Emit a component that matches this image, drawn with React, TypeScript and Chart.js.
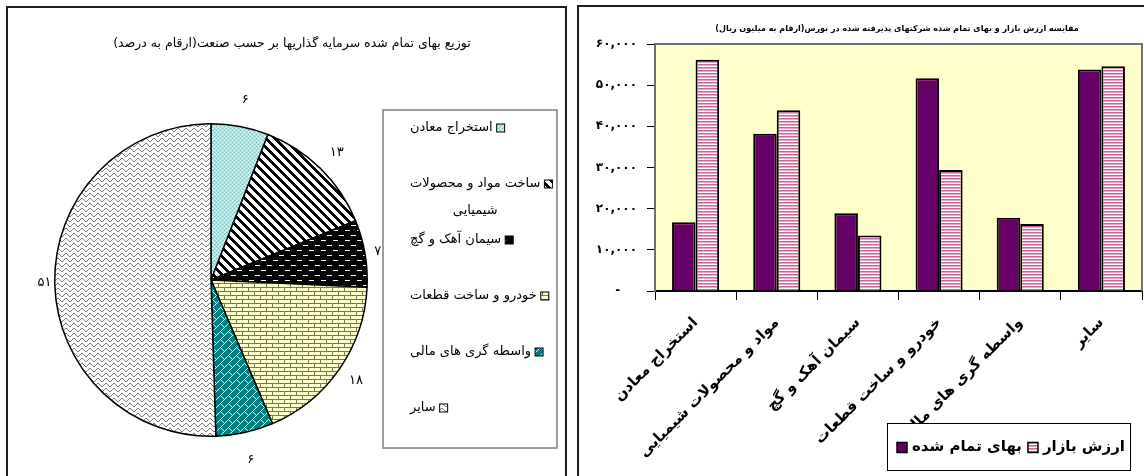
import React, { useEffect, useRef } from "react";
import { Chart, registerables } from "chart.js";
Chart.register(...registerables);

// ---------- data ----------
const pieTitle = "توزیع بهای تمام شده سرمایه گذاریها بر حسب صنعت(ارقام به درصد)";
const pieCategories = [
  "استخراج معادن",
  "ساخت مواد و محصولات شیمیایی",
  "سیمان آهک و گچ",
  "خودرو و ساخت قطعات",
  "واسطه گری های مالی",
  "سایر",
];
const pieLegendLines = [
  ["استخراج معادن"],
  ["ساخت مواد و محصولات", "شیمیایی"],
  ["سیمان آهک و گچ"],
  ["خودرو و ساخت قطعات"],
  ["واسطه گری های مالی"],
  ["سایر"],
];
const pieValues = [6, 13, 7, 18, 6, 51];
const pieValueLabels = ["۶", "۱۳", "۷", "۱۸", "۶", "۵۱"];

const barTitle =
  "مقایسه ارزش بازار و بهای تمام شده شرکتهای پذیرفته شده در بورس(ارقام به میلیون ریال)";
const barCategories = [
  "استخراج معادن",
  "مواد و محصولات شیمیایی",
  "سیمان آهک و گچ",
  "خودرو و ساخت قطعات",
  "واسطه گری های مالی",
  "سایر",
];
const costSeriesName = "بهای تمام شده";
const marketSeriesName = "ارزش بازار";
const costValues = [16700, 38200, 18900, 51700, 17800, 53800];
const marketValues = [56200, 43900, 13500, 29400, 16300, 54600];
const yTickLabels = ["-\u2007\u2007", "۱۰,۰۰۰", "۲۰,۰۰۰", "۳۰,۰۰۰", "۴۰,۰۰۰", "۵۰,۰۰۰", "۶۰,۰۰۰"];

// ---------- helpers ----------
type Layer = { color: string; pts: [number, number][] };
function makePattern(w: number, h: number, bg: string, layers: Layer[]) {
  const c = document.createElement("canvas");
  c.width = w;
  c.height = h;
  const g = c.getContext("2d")!;
  g.fillStyle = bg;
  g.fillRect(0, 0, w, h);
  layers.forEach((l) => {
    g.fillStyle = l.color;
    l.pts.forEach(([x, y]) => g.fillRect(x, y, 1, 1));
  });
  return g.createPattern(c, "repeat")!;
}
function range(n: number) {
  return Array.from({ length: n }, (_, i) => i);
}

function buildPiePatterns() {
  const cyan = makePattern(4, 4, "#A3E8E8", [
    { color: "#FFFFFF", pts: [[0, 0], [2, 2]] },
    { color: "#66CCCC", pts: [[2, 0], [0, 2]] },
  ]);
  const diagPts: [number, number][] = [];
  range(9).forEach((y) => range(4).forEach((t) => diagPts.push([(y + t) % 9, y])));
  const diag = makePattern(9, 9, "#FFFFFF", [{ color: "#000000", pts: diagPts }]);
  const dashPts: [number, number][] = [];
  range(5).forEach((k) => {
    dashPts.push([1 + k, 2]);
    dashPts.push([7 + k, 7]);
  });
  const dash = makePattern(12, 10, "#000000", [{ color: "#FFFFFF", pts: dashPts }]);
  const brickPts: [number, number][] = [];
  range(12).forEach((x) => {
    brickPts.push([x, 3]);
    brickPts.push([x, 7]);
  });
  range(3).forEach((y) => {
    brickPts.push([0, y]);
    brickPts.push([6, y + 4]);
  });
  const brick = makePattern(12, 8, "#FFFFCC", [{ color: "#77775A", pts: brickPts }]);
  const tealPts: [number, number][] = [];
  range(8).forEach((y) => tealPts.push([7 - y, y]));
  tealPts.push([4, 3], [5, 4], [6, 5], [7, 6]);
  const teal = makePattern(8, 8, "#008080", [{ color: "#CCFFCC", pts: tealPts }]);
  const waveY = [1, 0, 0, 1, 2, 3, 3, 2];
  const wave = makePattern(8, 5, "#FFFFFF", [
    { color: "#7A7A7A", pts: waveY.map((y, x) => [x, y] as [number, number]) },
  ]);
  return [cyan, diag, dash, brick, teal, wave];
}

function buildPinkPattern() {
  return makePattern(4, 3, "#FFFFFF", [
    { color: "#C8689A", pts: range(4).map((x) => [x, 0] as [number, number]) },
    { color: "#E6A8C8", pts: range(4).map((x) => [x, 1] as [number, number]) },
  ]);
}

const FONT = "Tahoma, 'DejaVu Sans', sans-serif";
const PURPLE = "#660066";

export default function App() {
  const pieRef = useRef<HTMLCanvasElement>(null);
  const barRef = useRef<HTMLCanvasElement>(null);

  useEffect(() => {
    const piePatterns = buildPiePatterns();
    const pink = buildPinkPattern();

    // ---------- pie ----------
    const PX = 8,
      PY = 8; // pie canvas page offset
    const pieDecor = {
      id: "pieDecor",
      afterDraw(chart: any) {
        const ctx = chart.ctx as CanvasRenderingContext2D;
        ctx.save();
        ctx.fillStyle = "#000";
        ctx.textBaseline = "middle";
        ctx.textAlign = "center";
        (ctx as any).direction = "rtl";
        ctx.font = `12.5px ${FONT}`;
        ctx.fillText(pieTitle, 292 - PX, 44 - PY);

        // value labels
        ctx.font = `13px ${FONT}`;
        const meta = chart.getDatasetMeta(0);
        meta.data.forEach((arc: any, i: number) => {
          const p = arc.getProps(["x", "y", "startAngle", "endAngle", "outerRadius"], true);
          const mid = (p.startAngle + p.endAngle) / 2;
          const r = p.outerRadius + 10 + 18 * Math.abs(Math.sin(mid));
          ctx.fillText(pieValueLabels[i], p.x + Math.cos(mid) * r, p.y + Math.sin(mid) * r);
        });

        // legend box
        const bx = 383 - PX,
          by = 110 - PY,
          bw = 174,
          bh = 338;
        ctx.lineWidth = 1.5;
        ctx.strokeStyle = "#7F7F7F";
        ctx.strokeRect(bx, by, bw, bh);
        const rowsY = [128, 184, 240, 296, 352, 408];
        ctx.font = `13px ${FONT}`;
        ctx.textAlign = "left";
        (ctx as any).direction = "ltr";
        pieLegendLines.forEach((lines, i) => {
          const ty = rowsY[i] - PY;
          const tx = 410 - PX;
          const w0 = ctx.measureText(lines[0]).width;
          ctx.fillStyle = "#000";
          ctx.fillText(lines[0], tx, ty);
          if (lines[1]) {
            const w1 = ctx.measureText(lines[1]).width;
            ctx.fillText(lines[1], tx + (w0 - w1) / 2, ty + 27);
          }
          const sx = tx + w0 + 4;
          ctx.fillStyle = piePatterns[i] as any;
          ctx.fillRect(sx, ty - 4, 8, 8);
          ctx.lineWidth = 1;
          ctx.strokeStyle = "#000";
          ctx.strokeRect(sx, ty - 4, 8, 8);
        });
        ctx.restore();
      },
    };

    const pie = new Chart(pieRef.current!, {
      type: "pie",
      data: {
        labels: pieCategories,
        datasets: [
          {
            data: pieValues,
            backgroundColor: piePatterns as any,
            borderColor: "#000",
            borderWidth: 1.5,
          },
        ],
      },
      options: {
        animation: false,
        responsive: false,
        events: [],
        layout: { padding: { top: 115, left: 46, right: 197, bottom: 39 } },
        plugins: { legend: { display: false }, tooltip: { enabled: false }, title: { display: false } },
      },
      plugins: [pieDecor],
    });

    // ---------- bar ----------
    const BX = 579,
      BY = 7;
    const barDecor = {
      id: "barDecor",
      beforeDraw(chart: any) {
        const { ctx, chartArea: a } = chart;
        ctx.save();
        ctx.fillStyle = "#FFFFCC";
        ctx.fillRect(a.left, a.top, a.right - a.left, a.bottom - a.top);
        ctx.restore();
      },
      beforeDatasetsDraw(chart: any) {
        const { ctx, chartArea: a } = chart;
        ctx.save();
        ctx.strokeStyle = "#6E6E6E";
        ctx.lineWidth = 2;
        ctx.beginPath();
        ctx.moveTo(a.left, a.top);
        ctx.lineTo(a.right, a.top);
        ctx.lineTo(a.right, a.bottom);
        ctx.stroke();
        ctx.restore();
      },
      afterDraw(chart: any) {
        const ctx = chart.ctx as CanvasRenderingContext2D;
        ctx.save();
        ctx.fillStyle = "#000";
        ctx.textBaseline = "middle";
        ctx.textAlign = "center";
        (ctx as any).direction = "rtl";
        ctx.font = `bold 8px ${FONT}`;
        ctx.fillText(barTitle, 897 - BX, 29 - BY);

        // legend
        const lx = 887 - BX,
          ly = 423 - BY,
          lw = 243,
          lh = 47;
        ctx.fillStyle = "#fff";
        ctx.fillRect(lx, ly, lw, lh);
        ctx.strokeStyle = "#000";
        ctx.lineWidth = 1;
        ctx.strokeRect(lx + 0.5, ly + 0.5, lw, lh);
        (ctx as any).direction = "ltr";
        ctx.textAlign = "left";
        ctx.font = `bold 15px ${FONT}`;
        const cy = ly + lh / 2 + 1;
        const items = [
          { name: costSeriesName, fill: PURPLE },
          { name: marketSeriesName, fill: pink },
        ];
        let x = lx + 10;
        items.forEach((it) => {
          ctx.fillStyle = it.fill as any;
          ctx.fillRect(x, cy - 5, 10, 10);
          ctx.strokeStyle = "#000";
          ctx.lineWidth = 1.5;
          ctx.strokeRect(x, cy - 5, 10, 10);
          x += 15;
          ctx.fillStyle = "#000";
          ctx.fillText(it.name, x, cy);
          x += ctx.measureText(it.name).width + 6;
        });
        ctx.restore();
      },
    };

    const bar = new Chart(barRef.current!, {
      type: "bar",
      data: {
        labels: barCategories,
        datasets: [
          {
            label: costSeriesName,
            data: costValues,
            backgroundColor: PURPLE,
            borderColor: "#000",
            borderWidth: 2,
            categoryPercentage: 0.58,
            barPercentage: 1,
          },
          {
            label: marketSeriesName,
            data: marketValues,
            backgroundColor: pink as any,
            borderColor: "#000",
            borderWidth: 2,
            categoryPercentage: 0.58,
            barPercentage: 1,
          },
        ],
      },
      options: {
        animation: false,
        responsive: false,
        events: [],
        layout: { padding: { top: 37, right: 2, left: 0, bottom: 0 } },
        plugins: { legend: { display: false }, tooltip: { enabled: false }, title: { display: false } },
        scales: {
          x: {
            afterFit: (s: any) => {
              s.height = 469 - 284;
            },
            grid: {
              offset: true,
              drawOnChartArea: false,
              drawTicks: true,
              tickLength: 9,
              color: "#000",
              lineWidth: 1,
            },
            border: { color: "#000", width: 2 },
            ticks: {
              autoSkip: false,
              maxRotation: 45,
              minRotation: 45,
              color: "#000",
              font: { family: FONT, size: 15, weight: "bold" },
              padding: 14,
            },
          },
          y: {
            min: 0,
            max: 60000,
            afterFit: (s: any) => {
              s.width = 76;
            },
            grid: { drawOnChartArea: false, drawTicks: true, tickLength: 8, color: "#000" },
            border: { color: "#6E6E6E", width: 2 },
            ticks: {
              stepSize: 10000,
              color: "#000",
              padding: 10,
              font: { family: FONT, size: 12, weight: "bold" },
              callback: (_v: any, i: number) => yTickLabels[i],
            },
          },
        },
      },
      plugins: [barDecor],
    });

    return () => {
      pie.destroy();
      bar.destroy();
    };
  }, []);

  return (
    <div
      style={{
        position: "absolute",
        left: 0,
        top: 0,
        width: 1144,
        height: 476,
        overflow: "hidden",
        background: "#fff",
      }}
    >
      <div
        style={{
          position: "absolute",
          left: 6,
          top: 6,
          width: 561,
          height: 490,
          border: "2px solid #1E1E1E",
          boxSizing: "border-box",
        }}
      />
      <div
        style={{
          position: "absolute",
          left: 577,
          top: 5,
          width: 600,
          height: 490,
          border: "2px solid #1E1E1E",
          boxSizing: "border-box",
        }}
      />
      <canvas
        ref={pieRef}
        width={557}
        height={468}
        style={{ position: "absolute", left: 8, top: 8, width: 557, height: 468 }}
      />
      <canvas
        ref={barRef}
        width={565}
        height={469}
        style={{ position: "absolute", left: 579, top: 7, width: 565, height: 469 }}
      />
    </div>
  );
}
